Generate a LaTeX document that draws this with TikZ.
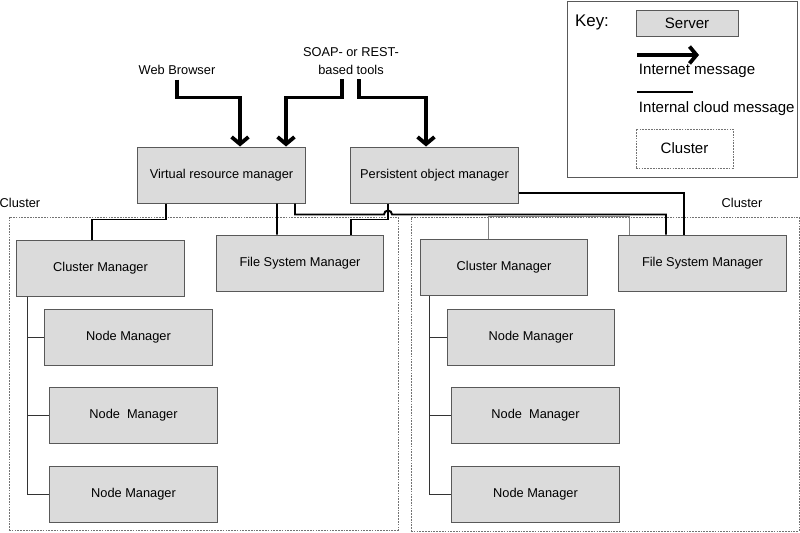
\documentclass[tikz,border=0pt]{standalone}
\usepackage{fontspec}
\setmainfont{Liberation Sans}
\usetikzlibrary{arrows.meta,calc}

\begin{document}
\begin{tikzpicture}
[x=0.025cm,y=-0.025cm,
every node/.style={font=\fontsize{9.1}{12.8}\selectfont},
server/.style={draw=black!65,fill=black!14,line width=0.7pt,minimum width=4.175cm,minimum height=1.4cm,inner sep=0pt},
clusterbox/.style={draw=black!55,dash pattern=on 1.2pt off 0.8pt,line width=0.5pt,inner sep=0pt},
keyfont/.style={font=\fontsize{10.7}{12.8}\selectfont},
inet/.style={line width=2.7pt,-{Straight Barb[length=5pt,width=12pt]}},
cloud/.style={line width=1.4pt},
tree/.style={line width=0.7pt,black!80},
link/.style={line width=0.7pt,black!50}]
\useasboundingbox (0,0) rectangle (800,532);
% clusters
\node[clusterbox,minimum width=9.725cm,minimum height=7.825cm] (clA) at (203.5,373.5) {};
\node[clusterbox,minimum width=9.7cm,minimum height=7.85cm] (clB) at (605,374) {};
\node (clAtext) at (20,203) {Cluster};
\node (clBtext) at (742,203) {Cluster};
% key
\node[draw=black!65,line width=0.7pt,minimum width=5.725cm,minimum height=4.375cm] (keybox) at (682.5,89.5) {};
\node[font=\fontsize{12}{14}\selectfont] (keytext) at (592,22) {Key:};
\node[server,keyfont,minimum width=2.55cm,minimum height=0.65cm] (keyserver) at (687,23) {Server};
\coordinate (inetA) at (637,55);
\coordinate (inetB) at (699,55);
\coordinate (cloudA) at (637,92);
\coordinate (cloudB) at (693,92);
\draw[inet] (inetA) -- (inetB);
\draw[cloud] (cloudA) -- (cloudB);
\node[keyfont,anchor=west] (inettext) at (634,71) {Internet message};
\node[keyfont,anchor=west] (cloudtext) at (634,109) {Internal cloud message};
\node[clusterbox,keyfont,minimum width=2.425cm,minimum height=0.975cm] (keycluster) at (684.5,148.5) {Cluster};
% clients
\node (wb) at (177,70) {Web Browser};
\node[align=center] (tools) at (351,61) {SOAP- or REST-\\based tools};
% servers
\node[server] (vrm) at (221.5,175) {Virtual resource manager};
\node[server] (pom) at (434.5,175) {Persistent object manager};
\node[server] (cmA) at (100.5,268) {Cluster Manager};
\node[server] (fsA) at (300,263) {File System Manager};
\node[server] (nmA1) at (128.5,337) {Node Manager};
\node[server] (nmA2) at (133.5,415.5) {Node~ Manager};
\node[server] (nmA3) at (133.5,494.5) {Node Manager};
\node[server] (cmB) at (504,267.5) {Cluster Manager};
\node[server] (fsB) at (702.5,263) {File System Manager};
\node[server] (nmB1) at (531,337) {Node Manager};
\node[server] (nmB2) at (535.5,415.5) {Node~ Manager};
\node[server] (nmB3) at (535.5,494) {Node Manager};
% internet messages
\draw[inet] (wb.south) |- ($(vrm.north)+(18.5,-49)$) -- ($(vrm.north)+(18.5,0)$);
\draw[inet] ($(tools.south)+(-9,0)$) |- ($(vrm.north)+(64.5,-49)$) -- ($(vrm.north)+(64.5,0)$);
\draw[inet] ($(tools.south)+(8,0)$) |- ($(pom.north)+(-8.5,-49)$) -- ($(pom.north)+(-8.5,0)$);
% internal cloud messages
\draw[cloud] ($(vrm.south)+(-55.5,0)$) |- ($(cmA.north)+(-8.5,-20)$) -- ($(cmA.north)+(-8.5,0)$);
\draw[cloud] ($(vrm.south)+(55.5,0)$) -- ($(fsA.north)+(-23,0)$);
\draw[cloud] ($(pom.south)+(-46.5,0)$) |- ($(fsA.north)+(51,-15)$) -- ($(fsA.north)+(51,0)$);
\draw[cloud] ($(pom.east)+(0,18)$) -| ($(fsB.north)+(-18.5,0)$);
\draw[cloud] ($(vrm.south)+(73.5,0)$) |- ($(pom.south)+(-50.5,11)$) arc[start angle=180,end angle=0,radius=0.1cm] -| ($(fsB.north)+(-36.5,0)$);
\draw[link] ($(cmB.north)+(-16,0)$) |- ($(fsB.north)+(-73.5,-18)$) -- ($(fsB.north)+(-73.5,0)$);
\foreach \n in {nmA1,nmA2,nmA3}
\draw[tree] ($(cmA.south)+(-73.5,0)$) |- (\n.west);
\foreach \n in {nmB1,nmB2,nmB3}
\draw[tree] ($(cmB.south)+(-75,0)$) |- (\n.west);
\end{tikzpicture}
\end{document}
